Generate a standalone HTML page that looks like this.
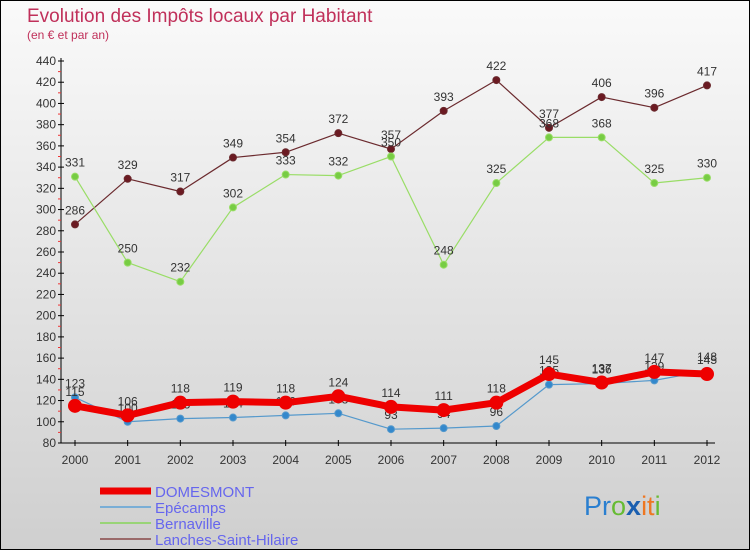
<!DOCTYPE html>
<html><head><meta charset="utf-8"><style>
body{margin:0;width:750px;height:550px;overflow:hidden;font-family:"Liberation Sans",sans-serif}
svg{display:block}
</style></head><body>
<svg id="c" width="750" height="550" xmlns="http://www.w3.org/2000/svg">
<defs><linearGradient id="bg" x1="0" y1="0" x2="0" y2="1"><stop offset="0" stop-color="#fafafa"/><stop offset="1" stop-color="#cfcfcf"/></linearGradient></defs>
<rect x="0.5" y="0.5" width="749" height="549" fill="url(#bg)" stroke="#000"/>
<text x="27" y="22" font-size="19" fill="#c0305a">Evolution des Impôts locaux par Habitant</text>
<text x="27" y="39" font-size="12" fill="#c0305a">(en € et par an)</text>
<g id="axes"></g><g id="series"></g><g id="legend"></g>
<text x="584" y="515" font-size="27" font-family="'Liberation Sans',sans-serif"><tspan fill="#2a7fd0">Pr</tspan><tspan fill="#66bb33">o</tspan><tspan fill="#1a5fb0" font-weight="bold">x</tspan><tspan fill="#ee7722">it</tspan><tspan fill="#66bb33">i</tspan></text>
</svg>
<script>
const years=[2000,2001,2002,2003,2004,2005,2006,2007,2008,2009,2010,2011,2012];
const yTicks=[80,100,120,140,160,180,200,220,240,260,280,300,320,340,360,380,400,420,440];
const domesmont=[115,106,118,119,118,124,114,111,118,145,137,147,145];
const epecamps=[123,100,103,104,106,108,93,94,96,135,136,139,148];
const bernaville=[331,250,232,302,333,332,350,248,325,368,368,325,330];
const lanches=[286,329,317,349,354,372,357,393,422,377,406,396,417];
const NS="http://www.w3.org/2000/svg";
function X(i){return 75+i*(707-75)/12;}
function Y(v){return 443-(v-80)*(443-61)/360;}
function mk(tag,attrs,parent,txt){const e=document.createElementNS(NS,tag);for(const k in attrs)e.setAttribute(k,attrs[k]);if(txt!==undefined)e.textContent=txt;parent.appendChild(e);return e;}
const ax=document.getElementById('axes');
let l=mk('line',{x1:61,y1:58,x2:61,y2:443,stroke:'#000'},ax);


l=mk('line',{x1:61,y1:443,x2:715,y2:443,stroke:'#000'},ax);


yTicks.forEach((v,i)=>{
 mk('line',{x1:58,y1:Y(v),x2:64,y2:Y(v),stroke:'#000'},ax);
 if(i<yTicks.length-1)mk('line',{x1:58,y1:Y(v+10),x2:61,y2:Y(v+10),stroke:'#e33'},ax);
 const t=mk('text',{x:56,y:Y(v)+4,'font-size':12,fill:'#333','text-anchor':'end'},ax,v);
 
 
});
years.forEach((yr,i)=>{
 mk('line',{x1:X(i),y1:440,x2:X(i),y2:446,stroke:'#000'},ax);
 const t=mk('text',{x:X(i),y:464,'font-size':12,fill:'#333','text-anchor':'middle'},ax,yr);
 
 
});
const sg=document.getElementById('series');
function draw(name,vals,color,width,r,dot){
 const g=mk('g',{},sg);
 
 
 const p=mk('polyline',{points:vals.map((v,i)=>X(i)+','+Y(v)).join(' '),fill:'none',stroke:color,'stroke-width':width,'stroke-linejoin':'round'},g);
 
 
 vals.forEach((v,i)=>{
  const c=mk('circle',{cx:X(i),cy:Y(v),r:r,fill:dot,stroke:color,'stroke-width':1},g);
  
  
  const t=mk('text',{x:X(i),y:Y(v)-10,'font-size':12,fill:'#333','text-anchor':'middle'},g,v);
  
  
 });
}
draw('lanches',lanches,'#6b2a2e',1.2,3.5,'#6b1a22');
draw('bernaville',bernaville,'#99dd66',1.2,3.5,'#77cc44');
draw('epecamps',epecamps,'#5599cc',1.2,3.5,'#3388cc');
draw('domesmont',domesmont,'#ee0000',7,6.5,'#ee0000');
const lg=document.getElementById('legend');
const leg=[['DOMESMONT','#ee0000',7],['Epécamps','#7aaed6',2],['Bernaville','#99d477',2],['Lanches-Saint-Hilaire','#9a6a6a',2]];
leg.forEach((e,i)=>{
 const y=491+i*16;
 const g=mk('g',{},lg);
 
 
 mk('line',{x1:100,y1:y,x2:151,y2:y,stroke:e[1],'stroke-width':e[2]},g);
 mk('text',{x:155,y:y+6,'font-size':15,fill:'#6666ee'},g,e[0]);
});
</script>
</body></html>
